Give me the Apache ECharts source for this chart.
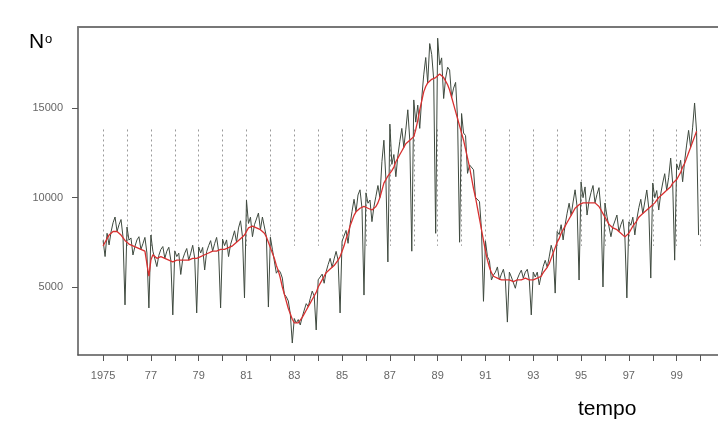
<!DOCTYPE html>
<html><head><meta charset="utf-8">
<script src="https://cdn.jsdelivr.net/npm/echarts@6/dist/echarts.min.js"></script>
<style>html,body{margin:0;padding:0;background:#fff}#c{width:718px;height:425px}</style>
</head><body><div id="c"></div>
<script>
// Monthly series, January 1975 .. December 1999
const startYear = 1975;

const rawValues = [
  /*1975*/ 7600, 6700, 8000, 7350, 8080, 8590, 8910, 8100, 8480, 8770, 7800, 4000,
  /*1976*/ 8350, 7620, 7740, 6790, 7270, 7630, 7810, 7100, 7420, 7770, 6900, 3830,
  /*1977*/ 7900, 7000, 7100, 6140, 6770, 7100, 7260, 6600, 7000, 7220, 6500, 3440,
  /*1978*/ 7020, 6700, 6890, 5700, 6570, 6890, 7150, 6500, 6890, 7330, 6600, 3550,
  /*1979*/ 7240, 6900, 7210, 5950, 6970, 7310, 7590, 7000, 7420, 7770, 7000, 3830,
  /*1980*/ 7670, 7310, 7630, 6700, 7370, 7740, 8140, 7500, 8300, 8700, 7800, 4390,
  /*1981*/ 9860, 8550, 8900, 7810, 8480, 8800, 9130, 8200, 8910, 8880, 7800, 3880,
  /*1982*/ 7780, 7110, 7000, 5770, 5960, 5830, 5500, 4600, 4450, 4220, 3500, 1870,
  /*1983*/ 3240, 2990, 3180, 2880, 3330, 3710, 4070, 3900, 4350, 4770, 4500, 2600,
  /*1984*/ 5400, 5360, 5720, 5210, 5860, 6250, 6600, 6100, 6570, 6990, 6500, 3550,
  /*1985*/ 7560, 7520, 8160, 7440, 8480, 9220, 9900, 9200, 10140, 10430, 9400, 4550,
  /*1986*/ 10260, 9680, 9860, 8650, 9490, 10070, 10670, 10000, 12000, 13200, 11000, 6400,
  /*1987*/ 14100, 11850, 12400, 11160, 12320, 13140, 13860, 12800, 13780, 14900, 13200, 7000,
  /*1988*/ 15450, 14210, 15160, 13860, 15550, 16850, 17820, 16400, 18600, 18000, 16600, 8000,
  /*1989*/ 18900, 17400, 17800, 15530, 16670, 17280, 17120, 15600, 16110, 16430, 14400, 7500,
  /*1990*/ 14690, 13600, 13460, 11350, 11820, 11770, 11550, 10000, 9960, 9770, 8200, 4200,
  /*1991*/ 7560, 6700, 6470, 5390, 5660, 5830, 6120, 5400, 5720, 5990, 5400, 3040,
  /*1992*/ 5830, 5560, 5620, 4930, 5450, 5720, 5940, 5500, 5830, 5990, 5400, 3440,
  /*1993*/ 5830, 5560, 5830, 5120, 5660, 6150, 6490, 6100, 6680, 7330, 6900, 4660,
  /*1994*/ 8100, 7930, 8480, 7630, 8480, 9120, 9680, 9000, 9750, 10430, 9500, 5390,
  /*1995*/ 10870, 9990, 10590, 9020, 9800, 10280, 10670, 9700, 10180, 10550, 9300, 5000,
  /*1996*/ 9690, 8960, 9010, 7810, 8380, 8690, 9020, 8100, 8480, 8770, 7800, 4390,
  /*1997*/ 8640, 8450, 8900, 7910, 8790, 9430, 9900, 9100, 9750, 10420, 9400, 5500,
  /*1998*/ 10810, 9990, 10390, 9300, 10200, 10810, 11330, 10400, 11130, 12200, 10800, 6500,
  /*1999*/ 11880, 11540, 12080, 10880, 12020, 12930, 13750, 12800, 13890, 15280, 13700, 7900
];

const trendValues = [
  /*1975*/ 7300, 7500, 7700, 7900, 8000, 8100, 8100, 8100, 8000, 7900, 7800, 7600,
  /*1976*/ 7500, 7400, 7300, 7300, 7200, 7200, 7100, 7100, 7000, 7000, 6900, 5600,
  /*1977*/ 6500, 6800, 6700, 6600, 6700, 6700, 6600, 6600, 6600, 6500, 6500, 6400,
  /*1978*/ 6500, 6500, 6500, 6500, 6500, 6500, 6500, 6500, 6500, 6600, 6600, 6600,
  /*1979*/ 6700, 6700, 6800, 6800, 6900, 6900, 6900, 7000, 7000, 7000, 7000, 7100,
  /*1980*/ 7100, 7100, 7200, 7200, 7300, 7300, 7400, 7500, 7600, 7700, 7800, 7900,
  /*1981*/ 8100, 8300, 8400, 8400, 8400, 8300, 8300, 8200, 8100, 8000, 7800, 7500,
  /*1982*/ 7200, 6900, 6600, 6200, 5900, 5500, 5000, 4600, 4200, 3800, 3500, 3200,
  /*1983*/ 3000, 2900, 3000, 3100, 3300, 3500, 3700, 3900, 4100, 4300, 4500, 4700,
  /*1984*/ 5000, 5200, 5400, 5600, 5800, 5900, 6000, 6100, 6200, 6300, 6500, 6700,
  /*1985*/ 7000, 7300, 7700, 8000, 8400, 8700, 9000, 9200, 9300, 9400, 9400, 9500,
  /*1986*/ 9500, 9400, 9300, 9300, 9400, 9500, 9700, 10000, 10400, 10800, 11000, 11200,
  /*1987*/ 11300, 11500, 11700, 12000, 12200, 12400, 12600, 12800, 13000, 13100, 13200, 13300,
  /*1988*/ 13400, 13800, 14300, 14900, 15400, 15900, 16200, 16400, 16500, 16600, 16600, 16700,
  /*1989*/ 16800, 16900, 16800, 16700, 16500, 16300, 16000, 15600, 15200, 14800, 14400, 14000,
  /*1990*/ 13600, 13200, 12700, 12200, 11700, 11100, 10500, 10000, 9400, 8800, 8200, 7600,
  /*1991*/ 7000, 6500, 6100, 5800, 5600, 5500, 5500, 5400, 5400, 5400, 5400, 5400,
  /*1992*/ 5400, 5400, 5300, 5300, 5400, 5400, 5400, 5500, 5500, 5400, 5400, 5400,
  /*1993*/ 5400, 5400, 5500, 5500, 5600, 5800, 5900, 6100, 6300, 6600, 6900, 7200,
  /*1994*/ 7500, 7700, 8000, 8200, 8400, 8600, 8800, 9000, 9200, 9400, 9500, 9600,
  /*1995*/ 9700, 9700, 9700, 9700, 9700, 9700, 9700, 9700, 9600, 9500, 9300, 9100,
  /*1996*/ 8900, 8700, 8500, 8400, 8300, 8200, 8200, 8100, 8000, 7900, 7800, 7800,
  /*1997*/ 8000, 8200, 8400, 8500, 8700, 8900, 9000, 9100, 9200, 9300, 9400, 9500,
  /*1998*/ 9600, 9700, 9800, 10000, 10100, 10200, 10300, 10400, 10500, 10600, 10800, 10900,
  /*1999*/ 11000, 11200, 11400, 11700, 11900, 12200, 12500, 12800, 13100, 13400, 13700, null
];

const tickYears = [1975,1976,1977,1978,1979,1980,1981,1982,1983,1984,1985,1986,1987,
                   1988,1989,1990,1991,1992,1993,1994,1995,1996,1997,1998,1999,2000];
const labelYears = [1975,1977,1979,1981,1983,1985,1987,1989,1991,1993,1995,1997,1999];
const labelTexts = ['1975','77','79','81','83','85','87','89','91','93','95','97','99'];
const yTickValues = [5000, 10000, 15000];
const guideYears = tickYears;
const guideRange = [7300, 13800];

const toPoints = arr => arr.map((v, i) => [startYear + i / 12, v]);

const chart = echarts.init(document.getElementById('c'), null, {renderer: 'canvas'});
const xMin = 1973.95, xMax = 2000.73;
chart.setOption({
  animation: false,
  backgroundColor: '#ffffff',
  grid: {left: 78, right: 0, top: 27, bottom: 70},
  xAxis: [{
    type: 'value', min: xMin, max: xMax, position: 'bottom',
    axisLine: {show: true, onZero: false, lineStyle: {color: '#555', width: 1.5}},
    axisTick: {show: true, customValues: tickYears, length: 6, lineStyle: {color: '#555', width: 1}},
    axisLabel: {
      show: true, customValues: labelYears, margin: 15, color: '#666',
      fontSize: 11, fontFamily: 'Liberation Sans',
      formatter: v => { const k = labelYears.indexOf(Math.round(v)); return k >= 0 ? labelTexts[k] : ''; }
    },
    splitLine: {show: false}
  }, {
    type: 'value', min: xMin, max: xMax, position: 'top',
    axisLine: {show: true, onZero: false, lineStyle: {color: '#777', width: 2}},
    axisTick: {show: false}, axisLabel: {show: false}, splitLine: {show: false}
  }],
  yAxis: {
    type: 'value', min: 1201, max: 19525,
    axisLine: {show: true, onZero: false, lineStyle: {color: '#555', width: 1.5}},
    axisTick: {show: true, customValues: yTickValues, length: 6, lineStyle: {color: '#555', width: 1}},
    axisLabel: {show: true, customValues: yTickValues, margin: 15, color: '#666',
      fontSize: 11, fontFamily: 'Liberation Sans', formatter: v => String(v)},
    splitLine: {show: false}
  },
  series: [{
    type: 'lines', coordinateSystem: 'cartesian2d', xAxisIndex: 0, yAxisIndex: 0,
    silent: true, z: 1,
    lineStyle: {color: '#9a9a9a', width: 1, type: [2, 3], opacity: 1},
    data: guideYears.map(y => ({coords: [[y, guideRange[1]], [y, guideRange[0]]]}))
  }, {
    type: 'line', xAxisIndex: 0, yAxisIndex: 0, z: 2,
    showSymbol: false, symbol: 'none',
    lineStyle: {color: '#3f4a3f', width: 1},
    data: toPoints(rawValues)
  }, {
    type: 'line', xAxisIndex: 0, yAxisIndex: 0, z: 3,
    showSymbol: false, symbol: 'none', connectNulls: false,
    lineStyle: {color: '#d83030', width: 1.3},
    data: toPoints(trendValues)
  }],
  graphic: [
    {type: 'text', left: 29, top: 32, style: {text: 'N', font: '21px "Liberation Sans"', fill: '#000'}},
    {type: 'text', left: 45, top: 33, style: {text: 'o', font: '13px "Liberation Sans"', fill: '#000'}},
    {type: 'text', left: 578, top: 399, style: {text: 'tempo', font: '21px "Liberation Sans"', fill: '#000'}}
  ]
});
</script>
</body></html>
